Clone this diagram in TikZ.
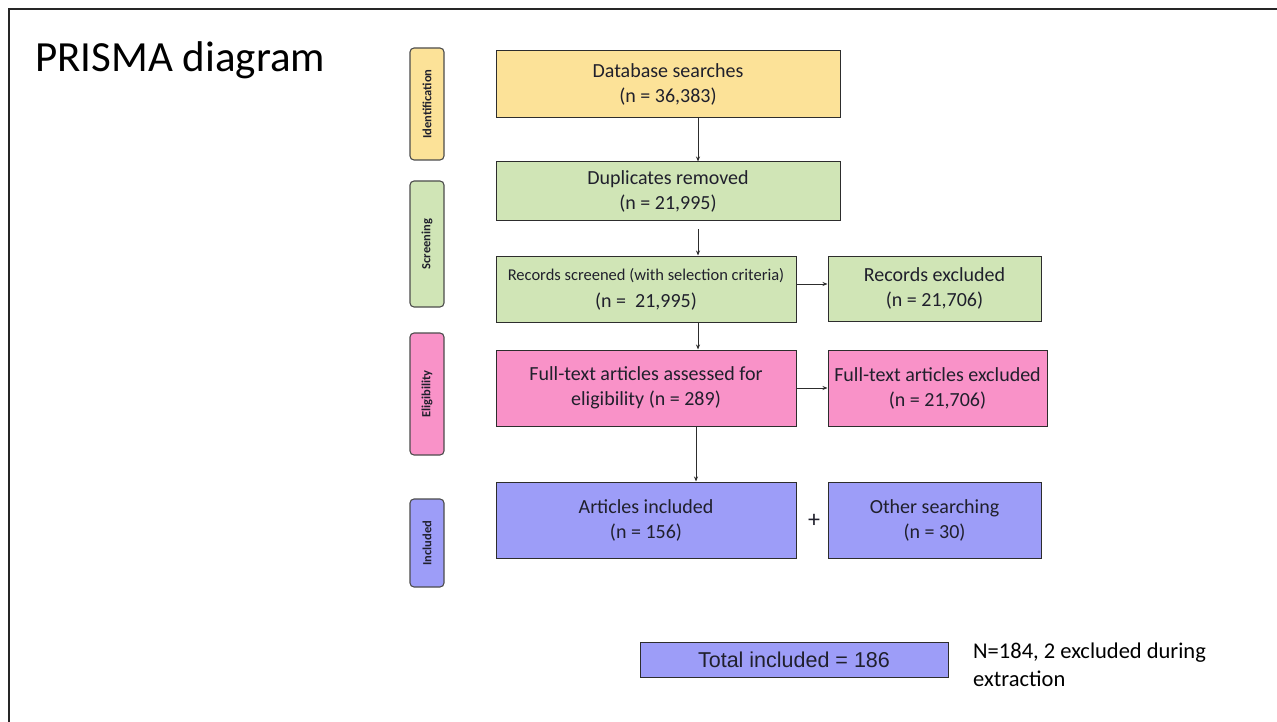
\documentclass[tikz,border=0pt]{standalone}
\usepackage{fontspec}
\setmainfont{Carlito}
\newfontfamily\arialfont{Liberation Sans}
\usetikzlibrary{arrows.meta}
\definecolor{yel}{RGB}{252,226,152}
\definecolor{grn}{RGB}{208,229,182}
\definecolor{pnk}{RGB}{249,146,200}
\definecolor{blu}{RGB}{157,157,248}
\definecolor{txt}{RGB}{32,32,44}
\definecolor{edge}{RGB}{45,45,45}
\tikzset{
  box/.style={draw=edge, line width=1pt, align=center, inner sep=0pt, text=txt,
    font=\fontsize{20}{25}\selectfont},
  side/.style={draw=edge!85, line width=1.1pt, rounded corners=4pt, inner sep=0pt,
    minimum width=34pt, text=txt, font=\fontsize{12.5}{14}\selectfont\bfseries},
  arr/.style={draw=edge, line width=0.8pt, -{Stealth[length=5pt,width=4pt]}},
}
\begin{document}
\begin{tikzpicture}[x=1pt,y=-1pt]
\useasboundingbox (0,0) rectangle (1277,722);
% frame
\draw[line width=2.5pt, black!85] (9,722) -- (9,9) -- (1277,9);
% title
\node[anchor=base west, inner sep=0pt, font=\fontsize{43}{50}\selectfont] (title) at (35,72) {PRISMA diagram};
% side labels
\node[side, fill=yel, minimum height=112pt] (sid) at (427,104) {\rotatebox{90}{Identification}};
\node[side, fill=grn, minimum height=126pt] (ssc) at (427,244) {\rotatebox{90}{Screening}};
\node[side, fill=pnk, minimum height=122pt] (sel) at (427,394) {\rotatebox{90}{Eligibility}};
\node[side, fill=blu, minimum height=88pt] (sin) at (427,543) {\rotatebox{90}{Included}};
% boxes
\node[box, fill=yel, minimum width=344pt, minimum height=67pt] (db) at (668,84.5) {Database searches\\(n = 36,383)};
\node[box, fill=grn, minimum width=344pt, minimum height=59pt] (dup) at (668,191.5) {Duplicates removed\\(n = 21,995)};
\node[box, fill=grn, minimum width=300pt, minimum height=66pt] (scr) at (646,289) {{\fontsize{16.5}{20}\selectfont Records screened (with selection criteria)}\\[2pt](n =~ 21,995)};
\node[box, fill=grn, minimum width=213pt, minimum height=65pt] (rex) at (934.5,288.5) {Records excluded\\(n = 21,706)};
\node[box, fill=pnk, minimum width=300pt, minimum height=76pt] (fta) at (646,388) {Full-text articles assessed for\\eligibility (n = 289)};
\node[box, fill=pnk, minimum width=219pt, minimum height=76pt] (fte) at (937.5,388) {Full-text articles excluded\\(n = 21,706)};
\node[box, fill=blu, minimum width=300pt, minimum height=76pt] (art) at (646,520) {Articles included\\(n = 156)};
\node[box, fill=blu, minimum width=213pt, minimum height=76pt] (oth) at (934.5,520) {Other searching\\(n = 30)};
\node[font=\fontsize{24}{24}\selectfont, text=txt, inner sep=0pt] (plus) at (814,521) {+};
\node[box, fill=blu, minimum width=308pt, minimum height=35pt, font=\arialfont\fontsize{21.5}{22}\selectfont] (tot) at (794,659.5) {Total included = 186};
\node[anchor=north west, align=left, inner sep=0pt, font=\fontsize{22.5}{28}\selectfont] (note) at (973,643) {N=184, 2 excluded during\\extraction};
% arrows
\coordinate (ax) at (698,0);
\coordinate (bx) at (696,0);
\draw[arr] (db.south -| ax) -- (dup.north -| ax);
\draw[arr] ([yshift=-8pt]dup.south -| ax) -- (scr.north -| ax);
\draw[arr] ([yshift=5pt]scr.east) -- ([yshift=5pt]scr.east -| rex.west);
\draw[arr] (scr.south -| ax) -- (fta.north -| ax);
\draw[arr] (fta.east) -- (fta.east -| fte.west);
\draw[arr] (fta.south -| bx) -- (art.north -| bx);
\end{tikzpicture}
\end{document}
